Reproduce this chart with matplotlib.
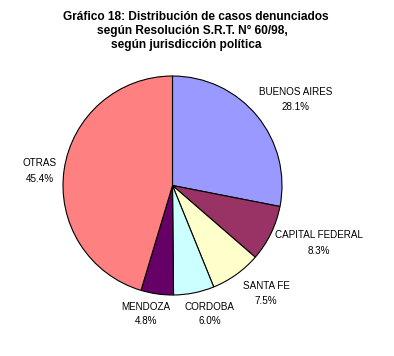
import matplotlib.pyplot as plt

plt.rcParams['font.family'] = ['Liberation Sans', 'DejaVu Sans']

# Datos del gráfico
jurisdicciones = ["BUENOS AIRES", "CAPITAL FEDERAL", "SANTA FE", "CORDOBA", "MENDOZA", "OTRAS"]
porcentajes = [28.1, 8.3, 7.5, 6.0, 4.8, 45.4]
colores = ["#9999FF", "#993366", "#FFFFCC", "#CCFFFF", "#660066", "#FF8080"]

# posiciones de las etiquetas (pixeles, centro de la primera linea)
pos_etiquetas = [(296, 92), (319, 235.5), (266, 286), (209.5, 306.5), (146, 306.5), (39.5, 163.5)]

W, H = 394, 356
fig = plt.figure(figsize=(W / 100, H / 100), dpi=100)
fig.patch.set_facecolor("white")

# pie: centro (172.5, 185.5) px, radio 109.5 px
cx, cy, r = 172.5, 185.5, 109.5
ax = fig.add_axes([(cx - r) / W, (H - cy - r) / H, 2 * r / W, 2 * r / H])
ax.pie(porcentajes, colors=colores, startangle=90, counterclock=False,
       radius=1, wedgeprops=dict(edgecolor="black", linewidth=0.8))
ax.set_xlim(-1, 1)
ax.set_ylim(-1, 1)
ax.axis("off")

for nombre, pct, (px, py) in zip(jurisdicciones, porcentajes, pos_etiquetas):
    fig.text(px / W, 1 - py / H, nombre, ha="center", va="center", fontsize=7.1)
    fig.text(px / W, 1 - (py + 15) / H, f"{pct:.1f}%", ha="center", va="center", fontsize=7.1)

titulo = ["Gráfico 18: Distribución de casos denunciados",
          "según Resolución S.R.T. N° 60/98,",
          "según jurisdicción política"]
titulo_x = [196, 192.5, 186.5]
titulo_y = [17, 31, 45]
for linea, tx, ty in zip(titulo, titulo_x, titulo_y):
    fig.text(tx / W, 1 - ty / H, linea, ha="center", va="center",
             fontsize=8.6, fontweight="bold")

plt.savefig("out.png", dpi=100)
